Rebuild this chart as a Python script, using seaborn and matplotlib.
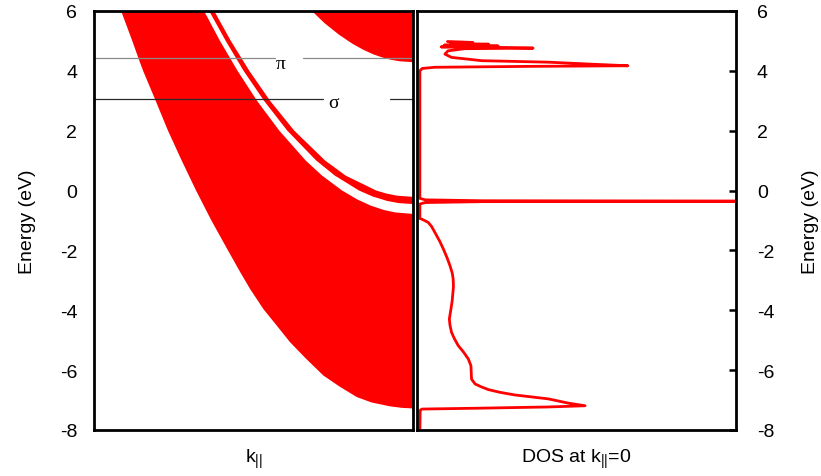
import matplotlib
matplotlib.use("Agg")
import matplotlib.pyplot as plt
import seaborn as sns

# ---- band structure (k measured from the zone centre, 0 at the right edge) ----
# lower band: outer (left) edge, running from the top of the window down to the band bottom
band1_lower_k = [0.915, 0.880, 0.861, 0.846, 0.809, 0.768, 0.725, 0.680, 0.632, 0.580, 0.542,
                 0.510, 0.469, 0.428, 0.386, 0.337, 0.281, 0.230, 0.176, 0.130, 0.072, 0.035, 0.0]
band1_lower_E = [6.00, 5.00, 4.43, 4.00, 3.06, 2.00, 1.00, 0.00, -1.00, -2.00, -2.72,
                 -3.30, -3.96, -4.50, -5.06, -5.60, -6.18, -6.55, -6.90, -7.08, -7.21, -7.26, -7.28]

# lower band: inner edge, and the narrow band above it (top of window down to k=0)
band1_upper_k = [0.655, 0.605, 0.550, 0.489, 0.419, 0.336, 0.285, 0.222, 0.174, 0.133, 0.091, 0.056, 0.0]
band1_upper_E = [6.00, 5.00, 4.00, 3.00, 2.00, 1.00, 0.50, 0.00, -0.30, -0.50, -0.65, -0.73, -0.78]

thin_lower_k = [0.639, 0.587, 0.531, 0.467, 0.394, 0.303, 0.245, 0.169, 0.126, 0.080, 0.044, 0.0]
thin_lower_E = [6.00, 5.00, 4.00, 3.00, 2.00, 1.00, 0.50, 0.00, -0.20, -0.35, -0.42, -0.45]

thin_upper_k = [0.623, 0.571, 0.513, 0.448, 0.372, 0.275, 0.211, 0.115, 0.083, 0.050, 0.0]
thin_upper_E = [6.00, 5.00, 4.00, 3.00, 2.00, 1.00, 0.50, 0.00, -0.10, -0.17, -0.21]

# upper band (top right corner)
band3_k = [0.317, 0.278, 0.231, 0.189, 0.155, 0.124, 0.097, 0.069, 0.042, 0.0]
band3_E = [6.00, 5.60, 5.20, 4.90, 4.70, 4.55, 4.45, 4.37, 4.32, 4.29]

# reference levels
pi_level = 4.43
sigma_level = 3.06

# ---- density of states at k||=0 ----
dos_E = [-8.00, -7.34, -7.30, -7.27, -7.23, -7.19, -7.10, -6.96, -6.83, -6.74, -6.65, -6.55,
         -6.46, -6.30, -5.85, -5.63, -5.40, -5.18, -4.95, -4.74, -4.50, -4.29, -3.96, -3.68,
         -3.20, -2.95, -2.75, -2.51, -2.25, -1.95, -1.70, -1.39, -1.20, -1.06, -0.97, -0.93,
         -0.45, -0.40, -0.37, -0.355, -0.34, -0.31, -0.26,
         4.00, 4.08, 4.12, 4.15, 4.17, 4.23, 4.29, 4.34, 4.45, 4.56, 4.67, 4.74, 4.76,
         4.78, 4.80, 4.83, 4.86, 4.89, 4.92, 4.95, 4.98]
dos = [0.003, 0.004, 0.010, 0.198, 0.408, 0.524, 0.470, 0.408, 0.303, 0.255, 0.219, 0.195,
       0.177, 0.166, 0.164, 0.156, 0.141, 0.124, 0.112, 0.103, 0.098, 0.096, 0.101, 0.105,
       0.109, 0.108, 0.105, 0.098, 0.089, 0.077, 0.066, 0.050, 0.040, 0.029, 0.012, 0.003,
       0.003, 0.020, 0.200, 1.500, 0.200, 0.020, 0.003,
       0.003, 0.010, 0.050, 0.350, 0.659, 0.530, 0.408, 0.198, 0.103, 0.082, 0.092, 0.145, 0.360,
       0.270, 0.070, 0.250, 0.080, 0.220, 0.100, 0.170, 0.090]

energy_ticks = [-8, -6, -4, -2, 0, 2, 4, 6]

sns.set_theme(style="white")
plt.rcParams["font.family"] = ["Liberation Sans", "DejaVu Sans"]
plt.rcParams["mathtext.fontset"] = "custom"
plt.rcParams["mathtext.rm"] = "Liberation Sans"
plt.rcParams["mathtext.it"] = "Liberation Sans"
plt.rcParams["axes.unicode_minus"] = False

RED = "#ff0000"
FS = 14
W, H = 821, 477
fig = plt.figure(figsize=(W / 100, H / 100), dpi=100)
axL = fig.add_axes([94 / W, 1 - 431 / H, 319 / W, 419 / H])
axR = fig.add_axes([417 / W, 1 - 431 / H, 319 / W, 419 / H])

# left panel: projected bands
axL.fill(band1_lower_k + band1_upper_k[::-1], band1_lower_E + band1_upper_E[::-1], color=RED, lw=0)
axL.fill(thin_lower_k + thin_upper_k[::-1], thin_lower_E + thin_upper_E[::-1], color=RED, lw=0)
axL.fill(band3_k + [0.0], band3_E + [6.0], color=RED, lw=0)

axL.plot([1.0, 0.433], [pi_level, pi_level], color="#8a8a8a", lw=0.9)
axL.plot([0.345, 0.0], [pi_level, pi_level], color="#8a8a8a", lw=0.9)
axL.plot([1.0, 0.282], [sigma_level, sigma_level], color="#2a2a2a", lw=0.9)
axL.plot([0.072, 0.0], [sigma_level, sigma_level], color="#2a2a2a", lw=0.9)
axL.text(0.414, 4.23, "π", family="Liberation Serif", fontsize=14, ha="center", va="center", color="black")
axL.text(0.248, 2.93, "σ", family="Liberation Serif", fontsize=14, ha="center", va="center", color="black")

axL.set_xlim(1.0, 0.0)
axL.set_ylim(-8, 6)
axL.set_xticks([])
axL.set_yticks(energy_ticks)
axL.tick_params(axis="y", length=0, labelsize=FS, pad=12, colors="black")
axL.set_ylabel("Energy (eV)", fontsize=FS, labelpad=17, color="black")
axL.set_xlabel(r"k$_{||}$", fontsize=FS, labelpad=12, color="black")

# right panel: DOS
sns.lineplot(x=dos, y=dos_E, sort=False, estimator=None, color=RED, lw=2.0, ax=axR)
axR.set_xlim(-0.006, 1.0)
axR.set_ylim(-8, 6)
axR.set_xticks([])
axR.yaxis.tick_right()
axR.yaxis.set_label_position("right")
axR.set_yticks(energy_ticks)
axR.tick_params(axis="y", which="both", left=False, right=True, direction="in",
                length=5, width=1.8, labelsize=FS, pad=15, colors="black")
axR.set_ylabel("Energy (eV)", fontsize=FS, labelpad=20, color="black")
axR.set_xlabel(r"DOS at k$_{||}$=0", fontsize=FS, labelpad=12, color="black")

for ax in (axL, axR):
    ax.set_facecolor("white")
    for s in ax.spines.values():
        s.set_visible(True)
        s.set_color("black")
        s.set_linewidth(2.0)

fig.savefig("out.png", dpi=100, facecolor="white")
